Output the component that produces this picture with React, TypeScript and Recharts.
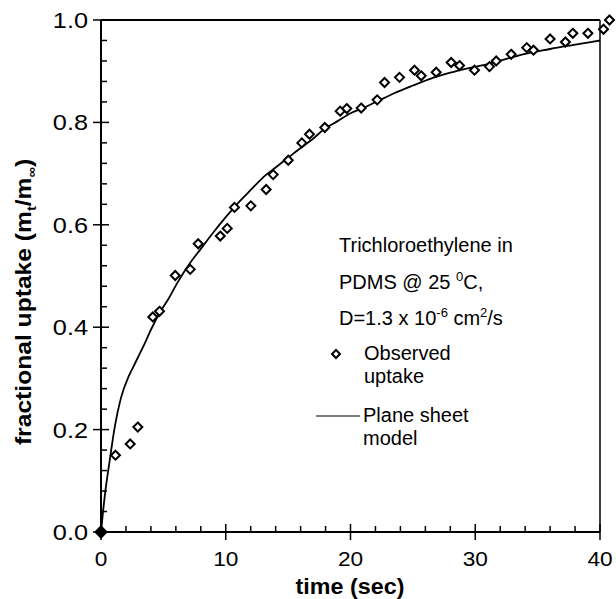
import React from 'react';
import {
  ComposedChart,
  Line,
  Scatter,
  XAxis,
  YAxis,
  ReferenceLine,
  Customized,
} from 'recharts';

// observed fractional uptake
const obsTime = [
  1.16, 2.34, 2.95, 4.15, 4.69, 5.95, 7.15, 7.79, 9.56, 10.12, 10.7, 12.01, 13.24, 13.8,
  15.01, 16.1, 16.71, 17.94, 19.17, 19.7, 20.86, 22.14, 22.73, 23.93, 25.13, 25.67, 26.87,
  28.07, 28.74, 29.94, 31.14, 31.68, 32.88, 34.13, 34.67, 36.0, 37.23, 37.82, 39.03, 40.28,
  40.76,
];
const obsUptake = [
  0.15, 0.172, 0.205, 0.42, 0.431, 0.501, 0.513, 0.563, 0.578, 0.593, 0.634, 0.637, 0.669,
  0.698, 0.726, 0.76, 0.777, 0.79, 0.822, 0.827, 0.828, 0.844, 0.878, 0.888, 0.902, 0.891,
  0.898, 0.917, 0.911, 0.902, 0.909, 0.92, 0.933, 0.946, 0.941, 0.963, 0.957, 0.974, 0.974,
  0.982, 1.0,
];

// plane sheet model curve
const modelTime = [
  0, 0.3, 0.7, 1.1, 1.6, 2.2, 2.6, 3.0, 3.5, 4.0, 4.8, 5.4, 6.2, 7.1, 8.0, 9.0, 10.0, 11.0,
  12.0, 13.2, 14.0, 15.1, 16.0, 17.0, 17.8, 19.0, 20.0, 21.0, 22.2, 23.5, 25.0, 26.5, 28.0,
  29.5, 31.0, 32.5, 34.0, 35.5, 37.0, 38.5, 40.0,
];
const modelUptake = [
  0, 0.07, 0.14, 0.205, 0.262, 0.303, 0.323, 0.343, 0.368, 0.395, 0.432, 0.455, 0.49, 0.524,
  0.553, 0.585, 0.615, 0.643, 0.668, 0.697, 0.712, 0.733, 0.75, 0.768, 0.785, 0.803, 0.818,
  0.828, 0.842, 0.857, 0.872, 0.886, 0.897, 0.906, 0.914, 0.924, 0.934, 0.941, 0.948, 0.954,
  0.96,
];

const originTime = [0];
const originUptake = [0];

const xTicks = [0, 2, 4, 6, 8, 10, 12, 14, 16, 18, 20, 22, 24, 26, 28, 30, 32, 34, 36, 38, 40];
const yTicks = [
  0, 0.04, 0.08, 0.12, 0.16, 0.2, 0.24, 0.28, 0.32, 0.36, 0.4, 0.44, 0.48, 0.52, 0.56, 0.6,
  0.64, 0.68, 0.72, 0.76, 0.8, 0.84, 0.88, 0.92, 0.96, 1.0,
];

const observed = obsTime.map((t, i) => ({ t, y: obsUptake[i] }));
const model = modelTime.map((t, i) => ({ t, y: modelUptake[i] }));
const origin = originTime.map((t, i) => ({ t, y: originUptake[i] }));

const FONT = '"Liberation Sans", Arial, Helvetica, sans-serif';

const Diamond = ({ cx, cy, fill = '#fff', r = 4.5 }: any) => (
  <polygon
    points={`${cx},${cy - r} ${cx + r},${cy} ${cx},${cy + r} ${cx - r},${cy}`}
    fill={fill}
    stroke="#000"
    strokeWidth={2}
  />
);

const XTick = ({ x, y, payload }: any) => {
  const major = Math.abs(payload.value % 10) < 1e-6;
  return (
    <g>
      <line x1={x} x2={x} y1={major ? y - 8 : y - 6} y2={major ? y + 8 : y} stroke="#000" strokeWidth={1.5} />
      {major && (
        <text
          transform={`translate(${x},${y + 34}) scale(1.08,1)`}
          textAnchor="middle"
          fontSize={21}
          fontFamily={FONT}
          fill="#000"
        >
          {payload.value}
        </text>
      )}
    </g>
  );
};

const YTick = ({ x, y, payload }: any) => {
  const v = payload.value;
  const major = Math.abs(Math.round(v * 5) - v * 5) < 1e-6;
  return (
    <g>
      <line x1={major ? x - 8 : x} x2={major ? x + 8 : x + 6} y1={y} y2={y} stroke="#000" strokeWidth={1.5} />
      {major && (
        <text
          transform={`translate(${x - 13},${y + 8}) scale(1.15,1)`}
          textAnchor="end"
          fontSize={22}
          fontFamily={FONT}
          fill="#000"
        >
          {v.toFixed(1)}
        </text>
      )}
    </g>
  );
};

const Notes = () => (
  <g fontFamily={FONT} fill="#000">
    <text x={339} y={252} fontSize={20}>Trichloroethylene in</text>
    <text x={339} y={289} fontSize={20}>
      PDMS @ 25 <tspan fontSize={13} dy={-8}>0</tspan>
      <tspan dy={8}>C,</tspan>
    </text>
    <text x={339} y={325} fontSize={20}>
      D=1.3 x 10<tspan fontSize={13} dy={-8}>-6</tspan>
      <tspan dy={8}> cm</tspan>
      <tspan fontSize={13} dy={-8}>2</tspan>
      <tspan dy={8}>/s</tspan>
    </text>

    <Diamond cx={336} cy={354} r={4} />
    <text x={364} y={360} fontSize={20}>Observed</text>
    <text x={364} y={383} fontSize={20}>uptake</text>
    <line x1={316} x2={360} y1={416} y2={416} stroke="#000" strokeWidth={1.2} />
    <text x={363} y={422} fontSize={20}>Plane sheet</text>
    <text x={363} y={445} fontSize={20}>model</text>

    <text
      transform="translate(350,594) scale(1.06,1)"
      fontSize={22}
      fontWeight="bold"
      textAnchor="middle"
    >
      time (sec)
    </text>
    <text
      transform="translate(31,302) rotate(-90) scale(1.12,1)"
      fontSize={22}
      fontWeight="bold"
      textAnchor="middle"
    >
      fractional uptake (m<tspan fontSize={13} dy={5}>t</tspan>
      <tspan dy={-5}>/m</tspan>
      <tspan fontSize={13} dy={5}>∞</tspan>
      <tspan dy={-5}>)</tspan>
    </text>
  </g>
);

export default function App() {
  return (
    <div style={{ width: 616, height: 599, background: '#fff' }}>
      <style>{'body{margin:0} .recharts-scatter{clip-path:none}'}</style>
      <ComposedChart width={616} height={599} margin={{ top: 20, right: 16, bottom: 0, left: 0 }}>
        <XAxis
          type="number"
          dataKey="t"
          domain={[0, 40]}
          allowDataOverflow
          ticks={xTicks}
          interval={0}
          height={67}
          tickSize={0}
          tickMargin={0}
          tickLine={false}
          tick={<XTick />}
          axisLine={{ stroke: '#000', strokeWidth: 2 }}
        />
        <YAxis
          type="number"
          dataKey="y"
          domain={[0, 1]}
          ticks={yTicks}
          interval={0}
          width={101}
          tickSize={0}
          tickMargin={0}
          tickLine={false}
          tick={<YTick />}
          axisLine={{ stroke: '#000', strokeWidth: 2 }}
        />
        <ReferenceLine y={1} stroke="#000" strokeWidth={2} />
        <ReferenceLine x={40} stroke="#000" strokeWidth={1.5} />
        <Line
          data={model}
          dataKey="y"
          type="monotone"
          stroke="#000"
          strokeWidth={1.8}
          dot={false}
          activeDot={false}
          isAnimationActive={false}
        />
        <Scatter data={observed} dataKey="y" shape={<Diamond />} isAnimationActive={false} />
        <Scatter data={origin} dataKey="y" shape={<Diamond fill="#000" r={5.5} />} isAnimationActive={false} />
        <Customized component={<Notes />} />
      </ComposedChart>
    </div>
  );
}
